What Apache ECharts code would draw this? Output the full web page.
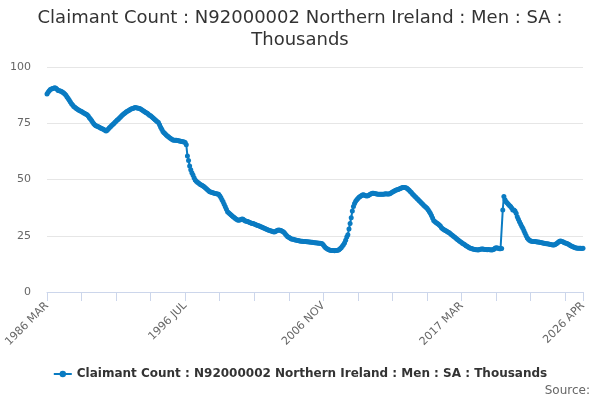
<!DOCTYPE html>
<html>
<head>
<meta charset="utf-8">
<title>Claimant Count : N92000002 Northern Ireland : Men : SA : Thousands</title>
<script src="https://cdn.jsdelivr.net/npm/echarts@6/dist/echarts.min.js"></script>
<style>
  html, body { margin: 0; padding: 0; background: #fff; }
  #chart { width: 600px; height: 400px; }
</style>
</head>
<body>
<div id="chart"></div>
<script>
// -----------------------------------------------------------------------------
// Data — monthly values (thousands), Mar 1986 → Apr 2026.
// Each row is twelve months starting in March.
// -----------------------------------------------------------------------------
const SERIES_NAME = "Claimant Count : N92000002 Northern Ireland : Men : SA : Thousands";
const START_YEAR = 1986;
const START_MONTH = 2; // 0-based: MAR
const MONTHS = ["JAN", "FEB", "MAR", "APR", "MAY", "JUN", "JUL", "AUG", "SEP", "OCT", "NOV", "DEC"];

const values1986 = [
  88.0, 88.8, 89.5, 90.0, 90.2, 90.5, 90.6, 90.8, 90.6, 90.1, 89.6, 89.5,
  89.3, 89.1, 88.8, 88.5, 88.0, 87.4, 86.7, 86.0, 85.2, 84.4, 83.7, 83.1,
  82.5, 82.1, 81.7, 81.3, 81.0, 80.7, 80.5, 80.2, 79.9, 79.6, 79.3, 79.0,
  78.8, 78.2, 77.5, 76.9, 76.2, 75.4, 74.8, 74.2, 73.9, 73.7, 73.5, 73.2,
  72.9, 72.7, 72.5, 72.2, 71.9, 71.6, 71.9, 72.5, 73.0, 73.5, 74.0, 74.4,
  74.9, 75.4, 75.9, 76.4, 76.8, 77.3, 77.8, 78.3, 78.8, 79.2, 79.6, 80.0,
  80.3, 80.6, 80.9, 81.2, 81.4, 81.6, 81.8, 82.0, 81.9, 81.8, 81.7, 81.6,
  81.3, 81.0, 80.7, 80.3, 80.0, 79.7, 79.4, 79.0, 78.6, 78.3, 77.9, 77.5,
  77.0, 76.6, 76.1, 75.7, 75.3, 74.3, 73.2, 72.3, 71.3, 70.8, 70.3, 69.8,
  69.3, 69.0, 68.6, 68.2, 67.9, 67.6, 67.5, 67.5, 67.4, 67.3, 67.2, 67.1,
];
const values1996 = [
  67.0, 66.9, 66.8, 66.7, 66.5, 65.5, 60.5, 58.5, 56.0, 54.3, 53.0, 52.0,
  50.8, 49.8, 49.2, 48.8, 48.4, 48.0, 47.7, 47.4, 47.1, 46.8, 46.3, 45.9,
  45.4, 45.0, 44.6, 44.4, 44.2, 44.1, 43.9, 43.8, 43.7, 43.6, 43.4, 42.8,
  42.0, 41.0, 40.1, 39.0, 37.9, 36.8, 35.7, 35.2, 34.8, 34.3, 33.9, 33.5,
  33.1, 32.7, 32.3, 32.0, 31.9, 32.0, 32.2, 32.4, 32.3, 31.9, 31.6, 31.4,
  31.3, 31.1, 30.9, 30.7, 30.5, 30.4, 30.2, 30.0, 29.8, 29.6, 29.4, 29.2,
  29.0, 28.8, 28.6, 28.3, 28.1, 27.9, 27.7, 27.5, 27.3, 27.1, 27.0, 26.8,
  26.7, 26.9, 27.2, 27.5, 27.6, 27.5, 27.3, 27.0, 26.8, 26.3, 25.7, 25.1,
  24.6, 24.3, 24.0, 23.7, 23.5, 23.4, 23.2, 23.1, 23.0, 22.9, 22.8, 22.7,
  22.6, 22.6, 22.5, 22.5, 22.4, 22.3, 22.3, 22.2, 22.2, 22.1, 22.1, 22.0,
];
const values2006 = [
  21.9, 21.9, 21.8, 21.8, 21.7, 21.7, 21.6, 21.5, 20.9, 20.2, 19.7, 19.3,
  19.0, 18.8, 18.6, 18.5, 18.4, 18.4, 18.3, 18.4, 18.5, 18.6, 18.8, 19.2,
  19.7, 20.3, 21.0, 21.8, 23.0, 24.5, 25.5, 28.0, 30.5, 33.0, 36.0, 38.0,
  39.3, 40.3, 41.0, 41.6, 42.1, 42.5, 42.8, 43.1, 43.2, 43.0, 42.8, 42.7,
  42.8, 43.1, 43.4, 43.7, 43.9, 43.9, 43.8, 43.7, 43.6, 43.5, 43.4, 43.4,
  43.4, 43.4, 43.5, 43.6, 43.7, 43.6, 43.6, 43.6, 43.8, 44.1, 44.4, 44.7,
  45.0, 45.2, 45.4, 45.6, 45.8, 46.0, 46.2, 46.4, 46.5, 46.5, 46.3, 46.1,
  45.7, 45.2, 44.7, 44.2, 43.6, 43.1, 42.6, 42.1, 41.6, 41.1, 40.6, 40.1,
  39.6, 39.1, 38.6, 38.1, 37.7, 37.2, 36.6, 35.8, 35.0, 34.0, 32.9, 31.8,
  31.3, 30.9, 30.6, 30.2, 29.8, 29.3, 28.6, 28.1, 27.8, 27.5, 27.2, 26.9,
];
const values2016 = [
  26.6, 26.3, 25.9, 25.5, 25.1, 24.7, 24.3, 23.9, 23.5, 23.1, 22.7, 22.3,
  22.0, 21.6, 21.3, 21.0, 20.6, 20.3, 20.0, 19.7, 19.5, 19.3, 19.1, 19.0,
  18.9, 18.8, 18.8, 18.7, 18.9, 19.0, 19.1, 19.1, 19.0, 18.9, 18.9, 18.8,
  18.9, 18.8, 18.8, 18.7, 18.8, 19.0, 19.4, 19.7, 19.6, 19.4, 19.2, 19.2,
  19.3, 36.5, 42.5, 41.0, 40.1, 39.6, 39.0, 38.5, 38.0, 37.3, 36.5, 36.4,
  36.0, 35.0, 33.5, 32.3, 31.2, 30.2, 29.2, 28.3, 27.2, 26.1, 25.0, 24.0,
  23.4, 23.0, 22.7, 22.6, 22.5, 22.4, 22.4, 22.3, 22.2, 22.2, 22.1, 22.0,
  21.9, 21.8, 21.7, 21.6, 21.5, 21.4, 21.3, 21.2, 21.1, 21.0, 20.9, 20.9,
  21.1, 21.4, 21.8, 22.2, 22.6, 22.7, 22.5, 22.3, 22.0, 21.8, 21.7, 21.5,
  21.2, 20.9, 20.6, 20.3, 20.1, 19.9, 19.7, 19.6, 19.5, 19.4, 19.4, 19.4,
  19.3, 19.4,
];

const values = [...values1986, ...values1996, ...values2006, ...values2016];

// Category labels: "1986 MAR", "1986 APR", … one per data point.
const categories = values.map((_, i) => {
  const m = START_MONTH + i;
  return `${START_YEAR + Math.floor(m / 12)} ${MONTHS[m % 12]}`;
});

const LAST = values.length - 1;
const LABEL_EVERY = 124; // months between shown labels
const TICK_EVERY = 31;   // months between tick marks

const Y_TICKS = { min: 0, max: 100, interval: 25 };

// -----------------------------------------------------------------------------
// Chart
// -----------------------------------------------------------------------------
const FONT = "DejaVu Sans, sans-serif";
const LINE_COLOR = "#0a7bc2";

const chart = echarts.init(document.getElementById("chart"), null, { renderer: "canvas" });

chart.setOption({
  animation: false,
  textStyle: { fontFamily: FONT },
  title: {
    text: "Claimant Count : N92000002 Northern Ireland : Men : SA :\nThousands",
    left: "center",
    top: 2,
    textStyle: { fontFamily: FONT, fontSize: 18, fontWeight: "normal", color: "#333", lineHeight: 22 },
  },
  grid: { left: 47, right: 17, top: 67, bottom: 108 },
  xAxis: {
    type: "category",
    data: categories,
    boundaryGap: false,
    axisLine: { lineStyle: { color: "#ccd6eb" } },
    axisTick: {
      length: 9,
      lineStyle: { color: "#ccd6eb" },
      interval: (i) => i % TICK_EVERY === 0 || i === LAST,
    },
    axisLabel: {
      rotate: 45,
      margin: 12,
      color: "#666",
      fontSize: 11,
      fontFamily: FONT,
      interval: (i) => i % LABEL_EVERY === 0 || i === LAST,
    },
    splitLine: { show: false },
  },
  yAxis: {
    type: "value",
    ...Y_TICKS,
    axisLine: { show: false },
    axisTick: { show: false },
    axisLabel: { color: "#666", fontSize: 11, fontFamily: FONT, margin: 16 },
    splitLine: { lineStyle: { color: "#e6e6e6" } },
  },
  legend: {
    top: 363,
    left: "center",
    itemWidth: 18,
    itemHeight: 8,
    itemGap: 4,
    textStyle: { fontFamily: FONT, fontSize: 12, fontWeight: "bold", color: "#333" },
    data: [SERIES_NAME],
  },
  graphic: [
    {
      type: "text",
      right: 10,
      bottom: 3,
      style: { text: "Source:", font: `12px ${FONT}`, fill: "#666" },
    },
  ],
  series: [
    {
      name: SERIES_NAME,
      type: "line",
      data: values,
      showAllSymbol: true,
      symbol: "circle",
      symbolSize: 5,
      itemStyle: { color: LINE_COLOR },
      lineStyle: { color: LINE_COLOR, width: 2 },
    },
  ],
});
</script>
</body>
</html>
